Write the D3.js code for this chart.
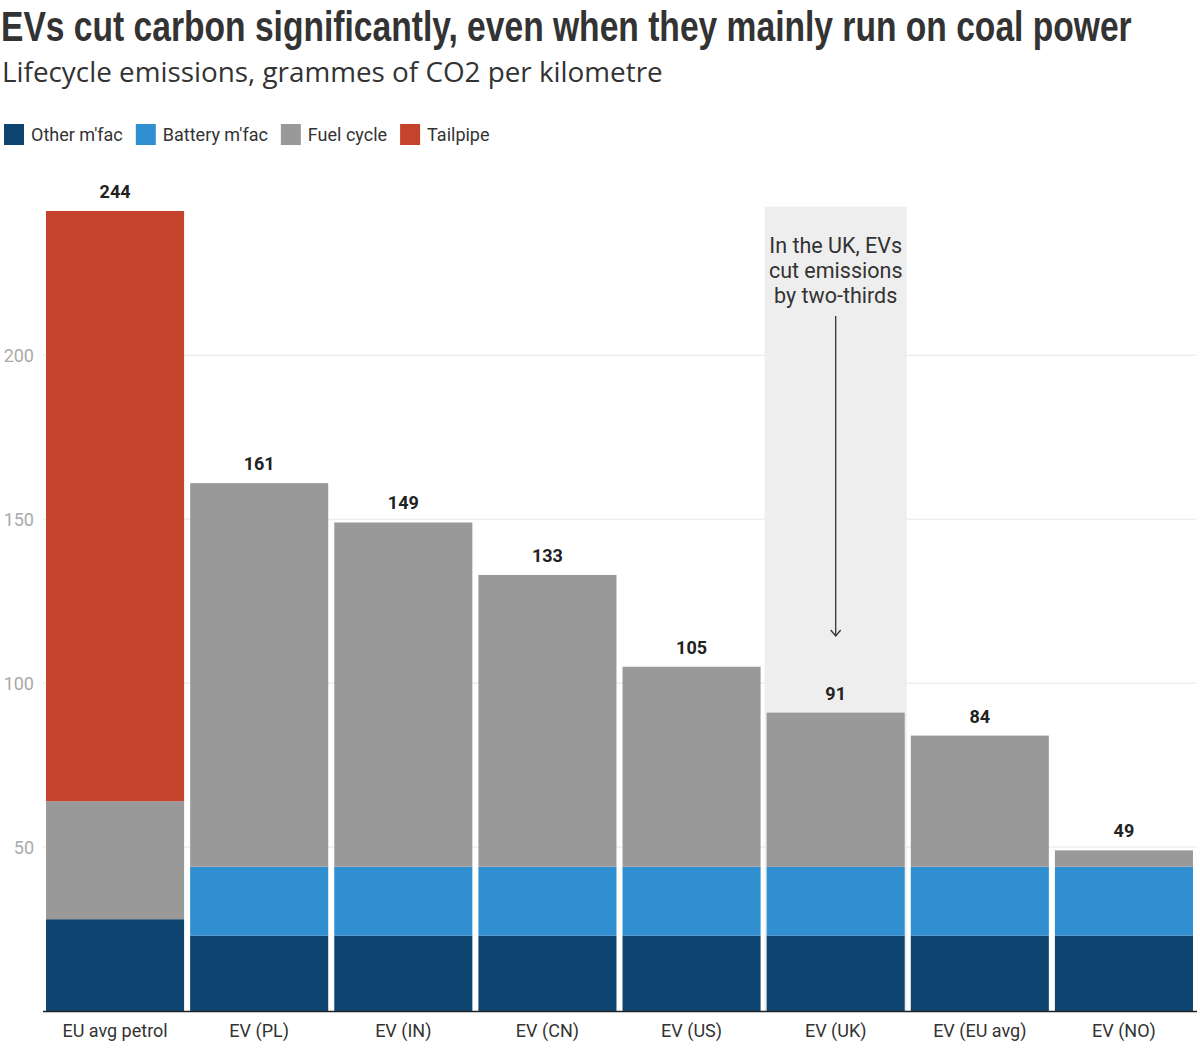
<!DOCTYPE html>
<html>
<head>
<meta charset="utf-8">
<script src="https://cdn.jsdelivr.net/npm/d3@7"></script>
<style>
  body { margin: 0; background: #fff; }
  text { font-family: Roboto, "Noto Sans", sans-serif; }
</style>
</head>
<body>
<svg id="chart" width="1200" height="1062"></svg>
<script>
// categories and stacked values (g CO2 / km)
var categories = ["EU avg petrol", "EV (PL)", "EV (IN)", "EV (CN)", "EV (US)", "EV (UK)", "EV (EU avg)", "EV (NO)"];
var otherMfac   = [28, 23, 23, 23, 23, 23, 23, 23];
var batteryMfac = [0, 21, 21, 21, 21, 21, 21, 21];
var fuelCycle   = [36, 117, 105, 89, 61, 47, 40, 5];
var tailpipe    = [180, 0, 0, 0, 0, 0, 0, 0];
var totals      = [244, 161, 149, 133, 105, 91, 84, 49];
var yTicks      = [50, 100, 150, 200];

var seriesNames = ["Other m'fac", "Battery m'fac", "Fuel cycle", "Tailpipe"];
var seriesColors = ["#0e4470", "#2f8fd1", "#999999", "#c6432b"];

(function () {
    var svg = d3.select("#chart");

    var x = d3.scaleBand().domain(categories).range([43, 1196]).paddingInner(0.042).paddingOuter(0.021);
    var y = d3.scaleLinear().domain([0, 244]).range([1011, 211]);

    // title + subtitle, squeezed horizontally to the reference width
    function fitText(sel, width) {
        var w = sel.node().getComputedTextLength();
        var x0 = +sel.attr("x"), y0 = +sel.attr("y");
        sel.attr("x", 0).attr("y", 0)
            .attr("transform", "translate(" + x0 + "," + y0 + ") scale(" + (width / w) + ",1)");
    }

    var title = svg.append("text")
        .attr("x", 1).attr("y", 41)
        .attr("font-weight", "bold")
        .attr("font-size", 43)
        .attr("fill", "#333")
        .style("font-family", "'Liberation Sans Narrow', 'Liberation Sans', sans-serif")
        .text("EVs cut carbon significantly, even when they mainly run on coal power");
    fitText(title, 1131);

    var sub = svg.append("text")
        .attr("x", 2).attr("y", 82)
        .attr("font-size", 28)
        .attr("fill", "#333")
        .style("font-family", "'Open Sans', sans-serif")
        .text("Lifecycle emissions, grammes of CO2 per kilometre");
    fitText(sub, 661);

    // legend
    var legend = svg.append("g").attr("transform", "translate(4,124)");
    var lx = 0;
    seriesNames.forEach(function (name, i) {
        var g = legend.append("g").attr("transform", "translate(" + lx + ",0)");
        g.append("rect").attr("width", 20).attr("height", 21).attr("fill", seriesColors[i]);
        var t = g.append("text").attr("x", 27).attr("y", 17)
            .attr("font-size", 18).attr("fill", "#333").text(name);
        lx += 27 + t.node().getComputedTextLength() + 13;
    });

    // grid
    svg.append("g")
        .selectAll("line")
        .data(yTicks)
        .join("line")
        .attr("x1", 43).attr("x2", 1196)
        .attr("y1", d => y(d)).attr("y2", d => y(d))
        .attr("stroke", "#e6e6e6").attr("stroke-width", 1);

    svg.append("g")
        .selectAll("text")
        .data(yTicks)
        .join("text")
        .attr("x", 34).attr("y", d => y(d) + 6.5)
        .attr("text-anchor", "end")
        .attr("font-size", 18)
        .attr("fill", "#aaa")
        .text(d => d);

    // UK annotation background
    var uk = "EV (UK)";
    var step = x.step();
    svg.append("rect")
        .attr("x", x(uk) + x.bandwidth() / 2 - step / 2 + 1)
        .attr("y", y(245) - 1)
        .attr("width", step - 2)
        .attr("height", y(0) - y(245) + 1)
        .attr("fill", "#eeeeee");

    // stacked bars
    var rows = categories.map(function (c, i) {
        return { cat: c, "Other m'fac": otherMfac[i], "Battery m'fac": batteryMfac[i], "Fuel cycle": fuelCycle[i], "Tailpipe": tailpipe[i] };
    });
    var stack = d3.stack().keys(seriesNames)(rows);

    svg.append("g")
        .selectAll("g")
        .data(stack)
        .join("g")
        .attr("fill", (d, i) => seriesColors[i])
        .selectAll("rect")
        .data(d => d)
        .join("rect")
        .attr("x", d => x(d.data.cat))
        .attr("width", x.bandwidth())
        .attr("y", d => y(d[1]))
        .attr("height", d => y(d[0]) - y(d[1]));

    // totals
    svg.append("g")
        .selectAll("text")
        .data(totals)
        .join("text")
        .attr("x", (d, i) => x(categories[i]) + x.bandwidth() / 2)
        .attr("y", d => y(d) - 13)
        .attr("text-anchor", "middle")
        .attr("font-size", 18)
        .attr("font-weight", "bold")
        .attr("fill", "#222")
        .text(d => d);

    // baseline + category labels
    svg.append("line")
        .attr("x1", 43).attr("x2", 1197)
        .attr("y1", y(0) + 0.5).attr("y2", y(0) + 0.5)
        .attr("stroke", "#222").attr("stroke-width", 1.5);

    svg.append("g")
        .selectAll("text")
        .data(categories)
        .join("text")
        .attr("x", d => x(d) + x.bandwidth() / 2)
        .attr("y", 1037)
        .attr("text-anchor", "middle")
        .attr("font-size", 18)
        .attr("fill", "#333")
        .text(d => d);

    // annotation text + arrow
    var cx = x(uk) + x.bandwidth() / 2;
    var note = ["In the UK, EVs", "cut emissions", "by two-thirds"];
    svg.append("g")
        .selectAll("text")
        .data(note)
        .join("text")
        .attr("x", cx)
        .attr("y", (d, i) => 253 + i * 25)
        .attr("text-anchor", "middle")
        .attr("font-size", 21.5)
        .attr("fill", "#333")
        .text(d => d);

    svg.append("line")
        .attr("x1", cx).attr("x2", cx)
        .attr("y1", 316).attr("y2", 636)
        .attr("stroke", "#333").attr("stroke-width", 1.3);
    svg.append("path")
        .attr("d", "M" + (cx - 5) + ",630 L" + cx + ",636 L" + (cx + 5) + ",630")
        .attr("fill", "none")
        .attr("stroke", "#333").attr("stroke-width", 1.3);
})();
</script>
</body>
</html>
